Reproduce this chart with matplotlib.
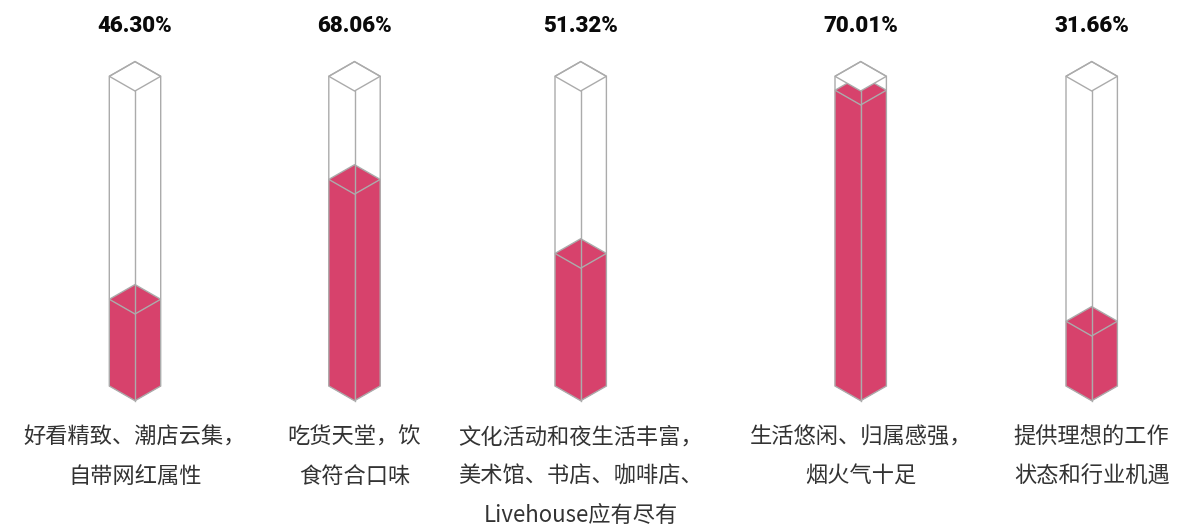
import matplotlib
matplotlib.use("Agg")
import matplotlib.pyplot as plt
from matplotlib.patches import Polygon

plt.rcParams['font.family'] = ['Noto Sans CJK SC', 'DejaVu Sans']

# ---- data ----
percent_values = [46.30, 68.06, 51.32, 70.01, 31.66]
fill_levels = [0.280, 0.667, 0.428, 0.955, 0.209]   # visual fill height of each column
categories = [
    "好看精致、潮店云集，\n自带网红属性",
    "吃货天堂，饮\n食符合口味",
    "文化活动和夜生活丰富，\n美术馆、书店、咖啡店、\nLivehouse应有尽有",
    "生活悠闲、归属感强，\n烟火气十足",
    "提供理想的工作\n状态和行业机遇",
]

# ---- layout ----
W, H = 1179, 529
centers = [135, 354.5, 580.7, 860.7, 1091.7]
half_w = 25.7
dh = 14.7
y_bottom = 400.7   # front-bottom vertex
y_top = 91.0       # front-top vertex
col_h = y_bottom - y_top
fill_color = "#D7426C"
edge_color = "#ABABAB"
lw = 1.0

fig = plt.figure(figsize=(W / 100, H / 100), dpi=100)
ax = fig.add_axes([0, 0, 1, 1])
ax.set_xlim(0, W)
ax.set_ylim(H, 0)
ax.axis("off")

for cx, frac, val, cat in zip(centers, fill_levels, percent_values, categories):
    yf = y_bottom - frac * col_h
    L, R = cx - half_w, cx + half_w
    # fill faces
    left_face = [(L, yf - dh), (cx, yf), (cx, y_bottom), (L, y_bottom - dh)]
    right_face = [(cx, yf), (R, yf - dh), (R, y_bottom - dh), (cx, y_bottom)]
    top_face = [(cx, yf), (L, yf - dh), (cx, yf - 2 * dh), (R, yf - dh)]
    for pts in (left_face, right_face):
        ax.add_patch(Polygon(pts, closed=True, facecolor=fill_color,
                             edgecolor=fill_color, lw=0.3, zorder=2))
    ax.add_patch(Polygon(top_face, closed=True, facecolor=fill_color,
                         edgecolor=edge_color, lw=lw, zorder=3))
    # box top face (opaque lid)
    lid = [(cx, y_top), (L, y_top - dh), (cx, y_top - 2 * dh), (R, y_top - dh)]
    ax.add_patch(Polygon(lid, closed=True, facecolor="white",
                         edgecolor=edge_color, lw=lw, zorder=4))
    # box outline
    outline = [(cx, y_top - 2 * dh), (R, y_top - dh), (R, y_bottom - dh),
               (cx, y_bottom), (L, y_bottom - dh), (L, y_top - dh)]
    ax.add_patch(Polygon(outline, closed=True, facecolor="none",
                         edgecolor=edge_color, lw=lw, zorder=5, joinstyle="miter"))
    ax.plot([cx, cx], [y_top, y_bottom], color=edge_color, lw=lw, zorder=5)

    # percent label
    ax.text(cx, 26, f"{val:.2f}%", ha="center", va="center", fontsize=16,
            fontweight="black", family=["Roboto", "DejaVu Sans"], color="#0a0a0a")
    # category label
    for i, line in enumerate(cat.split("\n")):
        ax.text(cx, 437 + 39 * i, line, ha="center", va="center", fontsize=16,
                fontweight="light", color="#333333",
                family=["Noto Sans CJK SC", "DejaVu Sans"])

fig.savefig("out.png", dpi=100, facecolor="white")
